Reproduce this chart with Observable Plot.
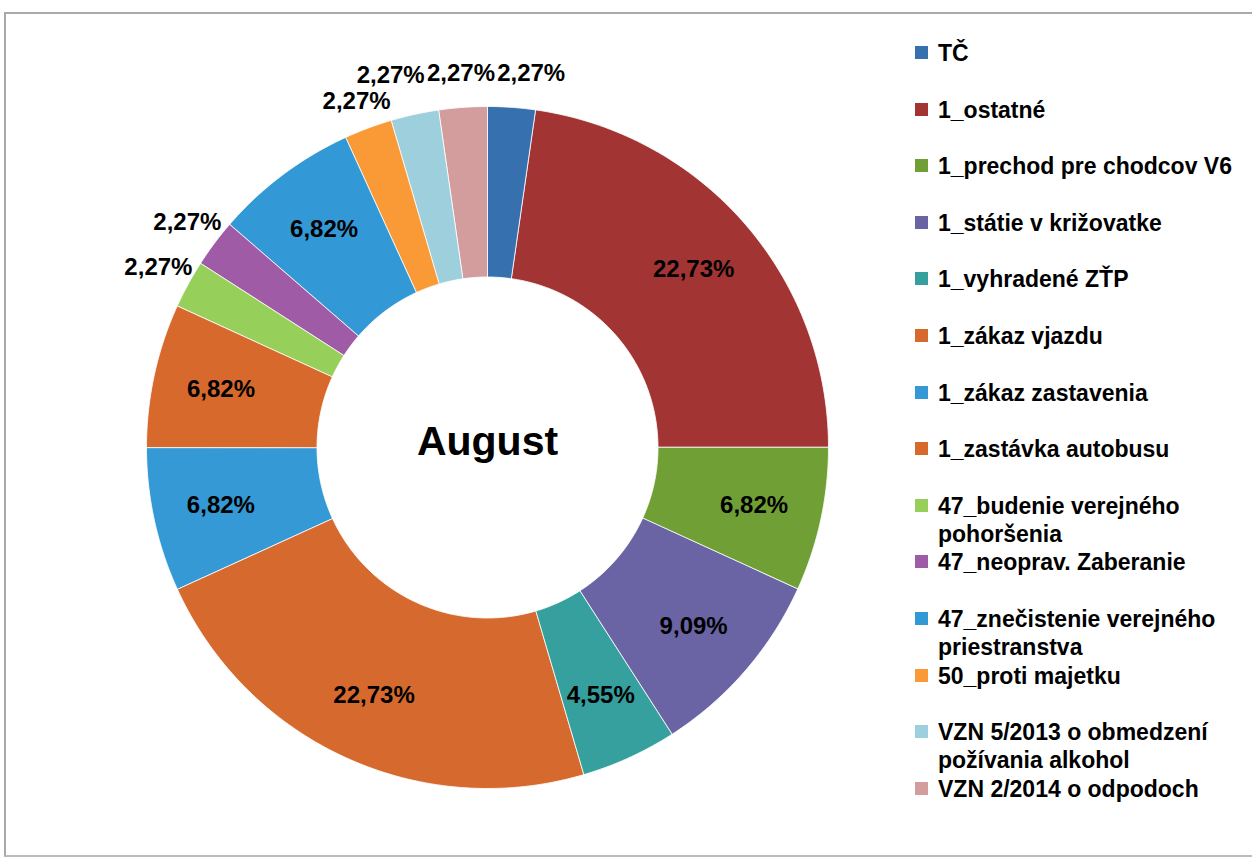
<!DOCTYPE html>
<html>
<head>
<meta charset="utf-8">
<script src="https://cdn.jsdelivr.net/npm/d3@7"></script>
<script src="https://cdn.jsdelivr.net/npm/@observablehq/plot@0.6"></script>
<style>
  html, body { margin: 0; padding: 0; background: #fff; width: 1252px; height: 857px; overflow: hidden; }
  #chart { position: absolute; left: 0; top: 0; }
  #frame { position: absolute; left: 4px; top: 12px; width: 1300px; height: 841px;
           border-top: 2px solid #a9a9a9; border-left: 2px solid #a9a9a9; border-bottom: 2px solid #bcbcbc;
           pointer-events: none; }
  #legend { position: absolute; left: 0; top: 0; font-family: "Liberation Sans", Arial, sans-serif;
            font-weight: bold; font-size: 23px; color: #000; }
  .item { position: absolute; left: 915px; width: 340px; }
  .sw { position: absolute; left: 0; top: 7px; width: 13px; height: 13px; }
  .lab { position: absolute; left: 23px; top: 0; width: 310px; line-height: 28px; }
</style>
</head>
<body>
<div id="chart"></div>
<div id="legend"></div>
<div id="frame"></div>
<script>
const categories = [
  "TČ",
  "1_ostatné",
  "1_prechod pre chodcov V6",
  "1_státie v križovatke",
  "1_vyhradené ZŤP",
  "1_zákaz vjazdu",
  "1_zákaz zastavenia",
  "1_zastávka autobusu",
  "47_budenie verejného pohoršenia",
  "47_neoprav. Zaberanie",
  "47_znečistenie verejného priestranstva",
  "50_proti majetku",
  "VZN 5/2013 o obmedzení požívania alkohol",
  "VZN 2/2014 o odpodoch"
];
const percents = [2.27, 22.73, 6.82, 9.09, 4.55, 22.73, 6.82, 6.82, 2.27, 2.27, 6.82, 2.27, 2.27, 2.27];
const colors = ["#3770AE", "#A33434", "#70A035", "#6B64A4", "#35A09E", "#D66A2E", "#3499D4",
                "#D8692C", "#96D05A", "#A05BA6", "#3399D6", "#F99A37", "#9ECFDC", "#D49D9D"];
const centerTitle = "August";

// geometry (unit radius)
const cx = 487, cy = 447, R = 341;
const R_OUT = 1, R_IN = 0.5;
const total = d3.sum(percents);
const pts = [];
const labels = [];
let cum = 0;
categories.forEach((cat, i) => {
  const a0 = cum / total * 2 * Math.PI;
  cum += percents[i];
  const a1 = cum / total * 2 * Math.PI;
  const n = Math.max(4, Math.ceil((a1 - a0) / (Math.PI / 180)));
  for (let k = 0; k <= n; k++) {
    const t = a0 + (a1 - a0) * k / n;
    pts.push({cat, x: R_OUT * Math.sin(t), y: R_OUT * Math.cos(t)});
  }
  for (let k = n; k >= 0; k--) {
    const t = a0 + (a1 - a0) * k / n;
    pts.push({cat, x: R_IN * Math.sin(t), y: R_IN * Math.cos(t)});
  }
  const mid = (a0 + a1) / 2;
  const outside = percents[i] < 3;
  const r = outside ? 1.1 : 0.8;
  labels.push({
    text: percents[i].toFixed(2).replace(".", ",") + "%",
    outside,
    x: r * Math.sin(mid), y: r * Math.cos(mid)
  });
});

// simple anti-overlap for outside labels (in pixel units)
const outs = labels.filter(d => d.outside);
const W = 70 / R, H = 26 / R;
for (let iter = 0; iter < 200; iter++) {
  let moved = false;
  for (let a = 0; a < outs.length; a++) {
    for (let b = a + 1; b < outs.length; b++) {
      const p = outs[a], q = outs[b];
      const dx = q.x - p.x, dy = q.y - p.y;
      if (Math.abs(dy) < H && Math.abs(dx) < W) {
        const ox = (W - Math.abs(dx)) / 2 + 0.0005;
        const oy = (H - Math.abs(dy)) / 2 + 0.0005;
        if (ox < oy * 1.6) {
          const s = dx >= 0 ? 1 : -1;
          p.x -= s * ox; q.x += s * ox;
        } else {
          const s = dy >= 0 ? 1 : -1;
          p.y -= s * oy; q.y += s * oy;
        }
        moved = true;
      }
    }
  }
  if (!moved) break;
}

const plot = Plot.plot({
  width: 860, height: 857,
  margin: 0,
  style: {background: "transparent", overflow: "visible"},
  x: {domain: [-1, 1], range: [cx - R, cx + R], axis: null},
  y: {domain: [-1, 1], range: [cy + R, cy - R], axis: null},
  color: {type: "ordinal", domain: categories, range: colors},
  marks: [
    Plot.line(pts, {x: "x", y: "y", z: "cat", fill: "cat", stroke: "white", strokeWidth: 1,
                    strokeOpacity: 0.8, curve: "linear-closed"}),
    Plot.text(labels, {x: "x", y: "y", text: "text", fontSize: 24, fontWeight: "bold",
                       fontFamily: "Liberation Sans, Arial, sans-serif", fill: "#000",
                       textAnchor: "middle", lineAnchor: "middle"}),
    Plot.text([centerTitle], {x: () => 0, y: () => 0, text: d => d, fontSize: 41, fontWeight: "bold",
                       fontFamily: "Liberation Sans, Arial, sans-serif", fill: "#000",
                       textAnchor: "middle", lineAnchor: "middle", dy: -6})
  ]
});
document.getElementById("chart").appendChild(plot);

// legend
const legend = document.getElementById("legend");
categories.forEach((cat, i) => {
  const it = document.createElement("div");
  it.className = "item";
  it.style.top = (39 + i * 56.6) + "px";
  const sw = document.createElement("div");
  sw.className = "sw";
  sw.style.background = colors[i];
  const lab = document.createElement("div");
  lab.className = "lab";
  lab.textContent = cat;
  it.appendChild(sw);
  it.appendChild(lab);
  legend.appendChild(it);
});
</script>
</body>
</html>
